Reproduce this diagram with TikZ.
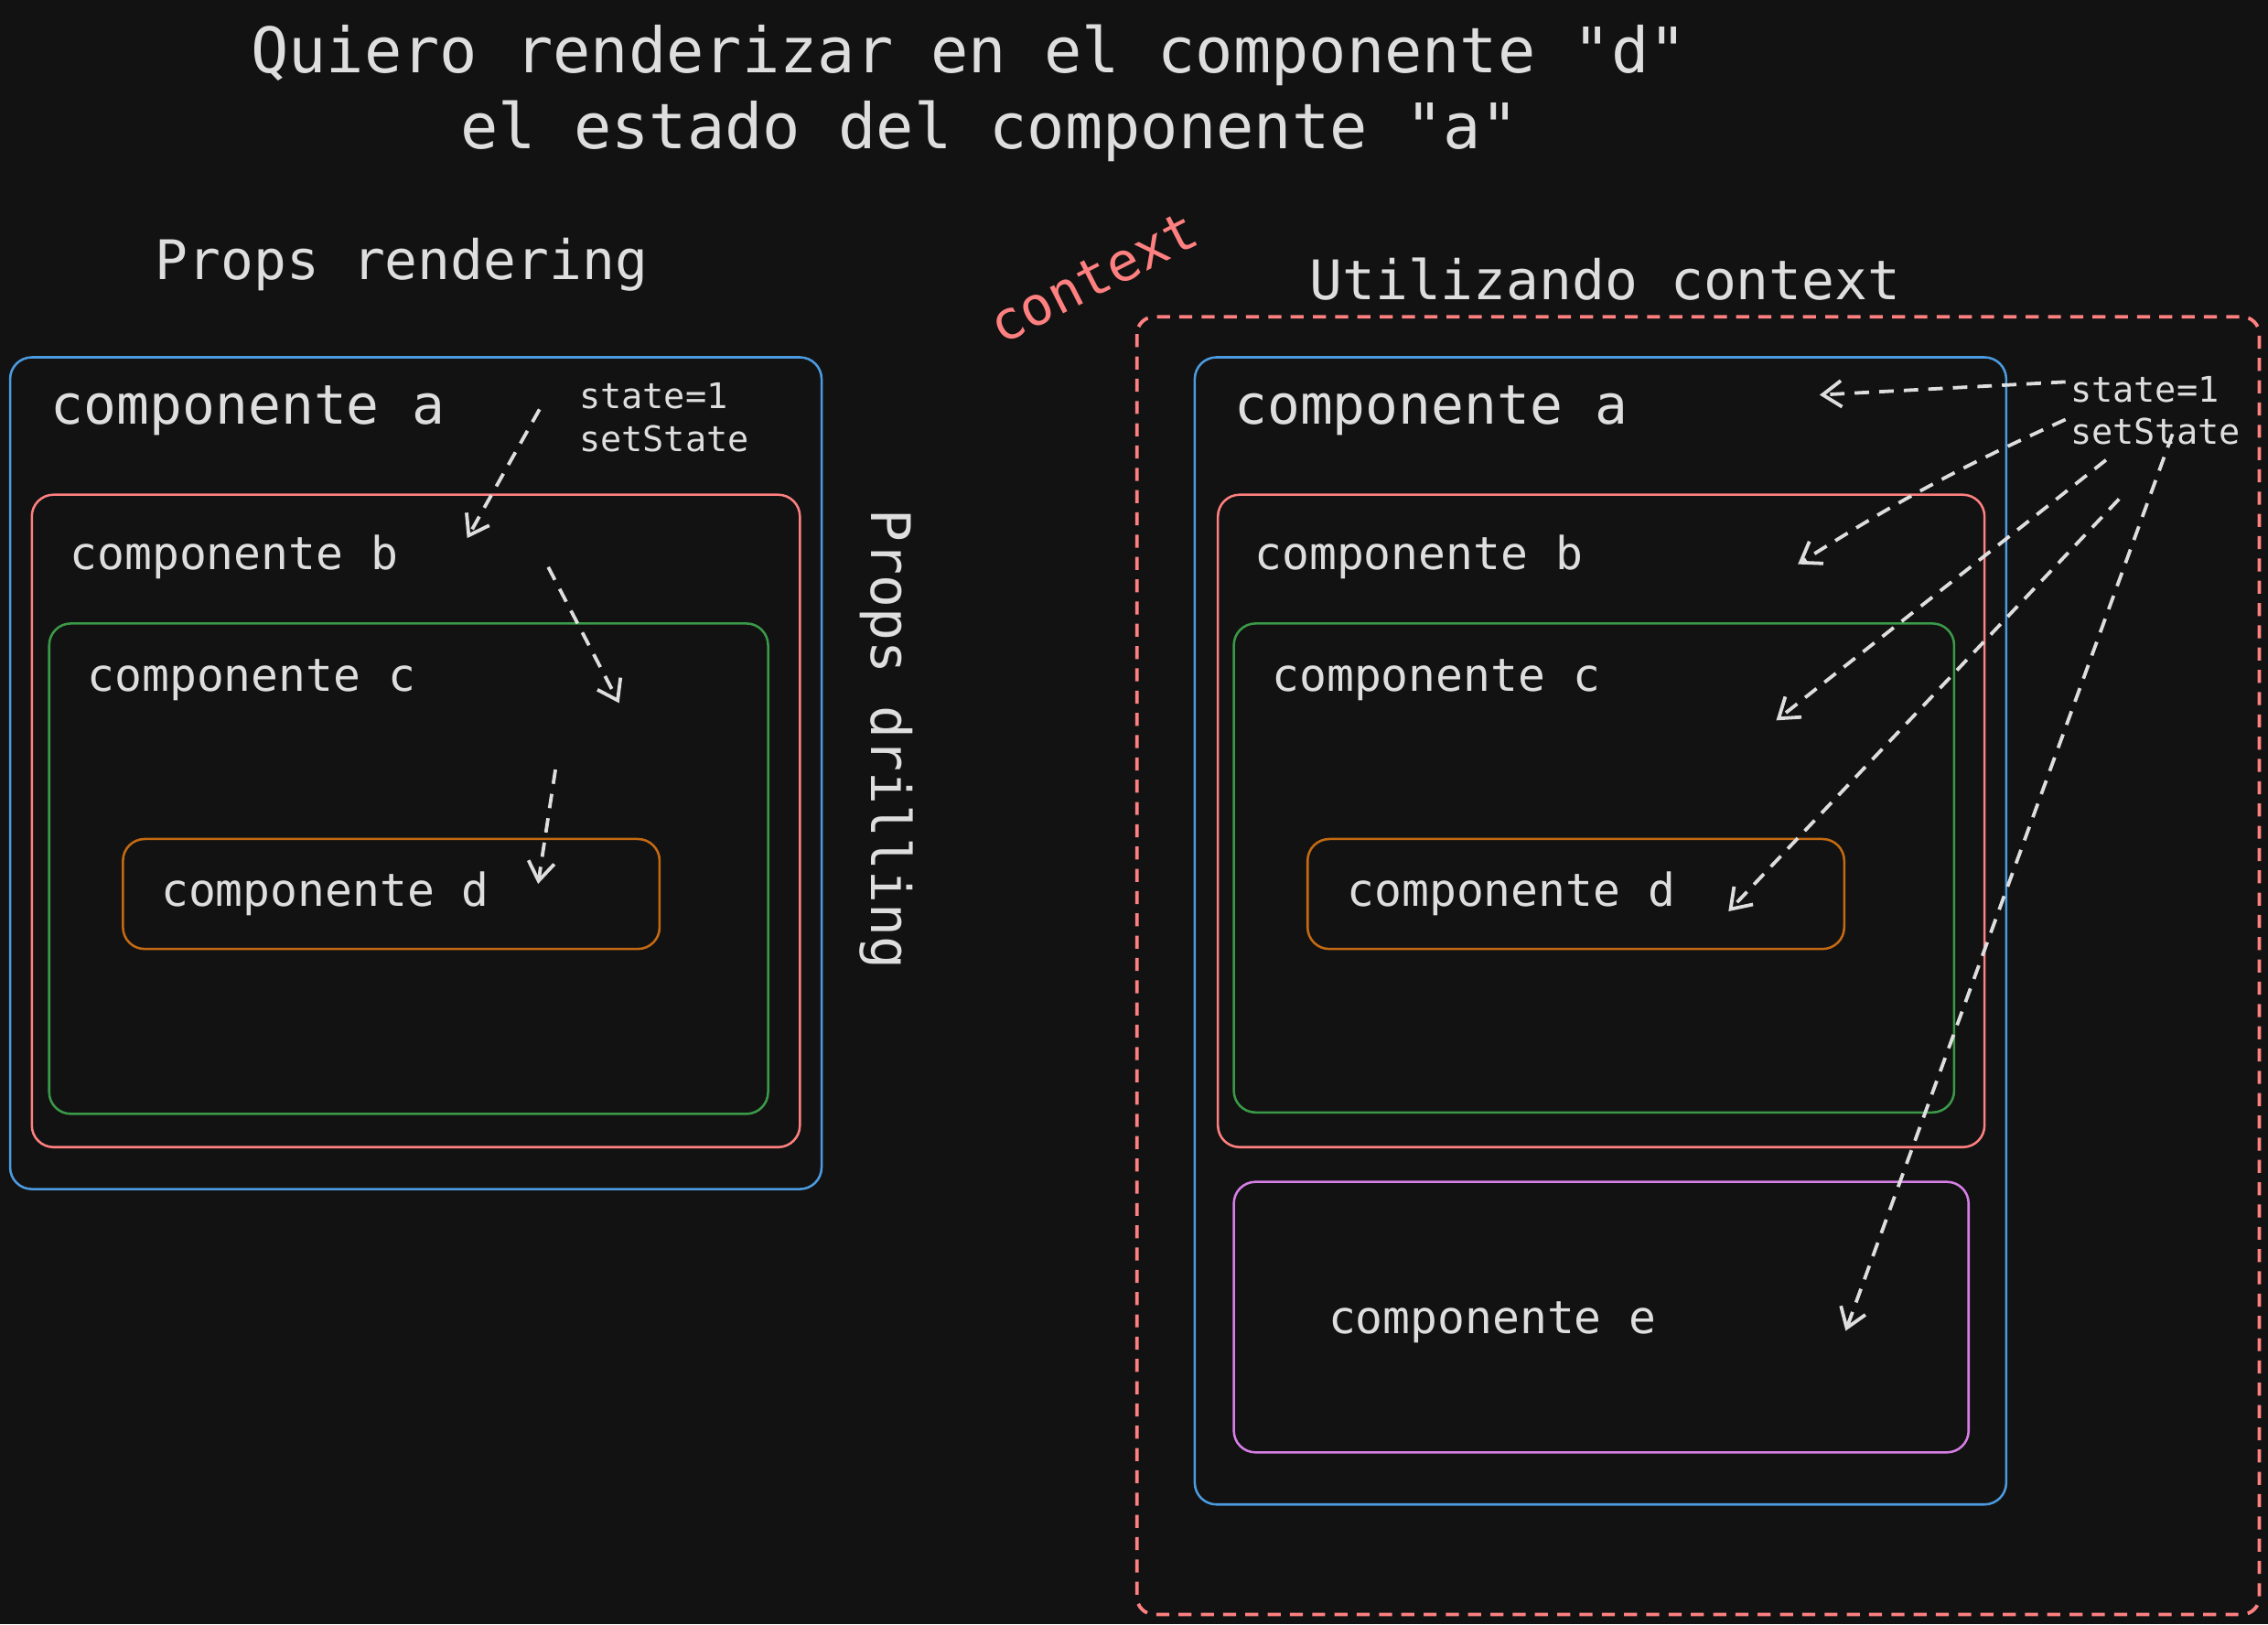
\documentclass[tikz,border=0pt]{standalone}
\usepackage{fontspec}
\setmonofont{DejaVu Sans Mono}
\usetikzlibrary{arrows.meta}
\definecolor{bgc}{HTML}{121212}
\definecolor{txtc}{HTML}{DEDEDE}
\definecolor{bluec}{HTML}{4C9BE0}
\definecolor{redc}{HTML}{FF8080}
\definecolor{greenc}{HTML}{3A9A48}
\definecolor{orangec}{HTML}{C46A12}
\definecolor{magc}{HTML}{D77FE6}
\tikzset{
  txt/.style={text=txtc, inner sep=0pt, font=\ttfamily},
  titletxt/.style={txt, anchor=west, font=\ttfamily\fontsize{21.7}{26}\selectfont},
  headtxt/.style={txt, anchor=west, font=\ttfamily\fontsize{18.85}{22}\selectfont},
  midtxt/.style={txt, anchor=west, font=\ttfamily\fontsize{15.7}{19}\selectfont},
  smalltxt/.style={txt, anchor=west, font=\ttfamily\fontsize{12.2}{15}\selectfont},
  boxline/.style={line width=0.8pt, rounded corners=7.5pt},
  flow/.style={draw=txtc, line width=1.2pt, dash pattern=on 5pt off 3.5pt,
    -{Straight Barb[length=6.5pt,width=9pt,line width=1.2pt]}},
}
\begin{document}
\begin{tikzpicture}[x=0.5pt,y=-0.5pt]
\fill[bgc] (0,0) rectangle (1568,1123);
\useasboundingbox (0,0) rectangle (1568,1123);

% titles
\node[titletxt] (t1) at (173,38) {Quiero renderizar en el componente "d"};
\node[titletxt] (t2) at (318,91) {el estado del componente "a"};
\node[headtxt] (h1) at (107,183) {Props rendering};
\node[headtxt] (h2) at (905,193) {Utilizando context};
\node[txt, text=redc, rotate=27, font=\ttfamily\fontsize{18.5}{22}\selectfont] (ctx) at (756,192) {context};
\node[headtxt, anchor=center, rotate=-90] (pd) at (613,511) {Props drilling};

% left boxes
\draw[boxline, draw=bluec] (7,247) rectangle (568,822);
\draw[boxline, draw=redc] (22,342) rectangle (553,793);
\draw[boxline, draw=greenc] (34,431) rectangle (531,770);
\draw[boxline, draw=orangec] (85,580) rectangle (456,656);

\node[headtxt] (la) at (35,284) {componente a};
\node[midtxt] (lb) at (48,385) {componente b};
\node[midtxt] (lc) at (60,470) {componente c};
\node[midtxt] (ld) at (111,618) {componente d};
\node[smalltxt] (ls1) at (400,274) {state=1};
\node[smalltxt] (ls2) at (400,303) {setState};

% right boxes
\draw[line width=1.2pt, draw=redc, rounded corners=6pt, dash pattern=on 4.5pt off 3.2pt] (786,219) rectangle (1562,1116);
\draw[boxline, draw=bluec] (826,247) rectangle (1387,1040);
\draw[boxline, draw=redc] (842,342) rectangle (1372,793);
\draw[boxline, draw=greenc] (853,431) rectangle (1351,769);
\draw[boxline, draw=orangec] (904,580) rectangle (1275,656);
\draw[boxline, draw=magc] (853,817) rectangle (1361,1004);

\node[headtxt] (ra) at (853,284) {componente a};
\node[midtxt] (rb) at (867,385) {componente b};
\node[midtxt] (rc) at (879,470) {componente c};
\node[midtxt] (rd) at (931,618) {componente d};
\node[midtxt] (re) at (918,914) {componente e};
\node[smalltxt] (rs1) at (1431,269) {state=1};
\node[smalltxt] (rs2) at (1431,298) {setState};

% arrow endpoints left
\coordinate (l1s) at (373,283); \coordinate (l1e) at (323,372);
\coordinate (l2s) at (379,392); \coordinate (l2e) at (428,486);
\coordinate (l3s) at (384,532); \coordinate (l3e) at (372,611);
\draw[flow] (l1s) -- (l1e);
\draw[flow] (l2s) -- (l2e);
\draw[flow] (l3s) -- (l3e);

% arrow endpoints right
\coordinate (r1s) at (1428,264); \coordinate (r1e) at (1258,273);
\coordinate (r2s) at (1428,290); \coordinate (r2e) at (1243,390);
\coordinate (r3s) at (1456,318); \coordinate (r3e) at (1228,498);
\coordinate (r4s) at (1465,345); \coordinate (r4e) at (1195,630);
\coordinate (r5s) at (1502,300); \coordinate (r5e) at (1276,920);
\draw[flow] (r1s) -- (r1e);
\draw[flow] (r2s) to[bend right=4] (r2e);
\draw[flow] (r3s) -- (r3e);
\draw[flow] (r4s) -- (r4e);
\draw[flow] (r5s) -- (r5e);
\end{tikzpicture}
\end{document}
